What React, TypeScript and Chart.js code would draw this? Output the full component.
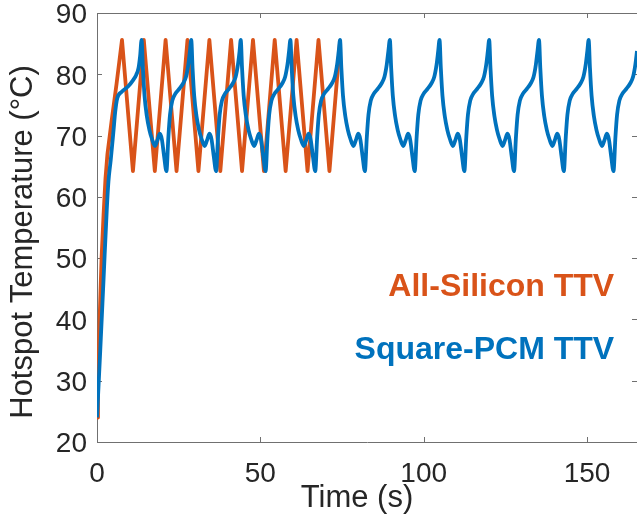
import React, { useEffect, useRef } from 'react';
import { Chart, registerables } from 'chart.js';

Chart.register(...registerables);

// ---- Text ----
const xTitle = 'Time (s)';
const yTitle = 'Hotspot Temperature (°C)';
const siliconLabel = 'All-Silicon TTV';
const pcmLabel = 'Square-PCM TTV';

// ---- Axes ----
const xTicks = [0, 50, 100, 150];
const yTicks = [20, 30, 40, 50, 60, 70, 80, 90];
const xMin = 0;
const xMax = 165.3;
const yMin = 20;
const yMax = 90;

// ---- Label anchor positions (data units) ----
const siliconLabelAt = [158.3, 43.8];
const pcmLabelAt = [158.3, 33.5];

// ---- All-Silicon TTV series ----
const siliconTime = [
  0, 0.3, 0.8, 1.4, 2.0, 2.6, 3.2, 4.5, 6.0, 7.65,
  11.0, 14.33, 17.7, 21.0, 24.35, 27.7, 31.05, 34.4, 37.75, 41.05,
  44.4, 47.75, 51.1, 54.4, 57.75, 61.1, 64.45, 67.8, 71.15, 74.45,
];
const siliconTemp = [
  24.0, 30.0, 40.0, 50.0, 57.0, 63.0, 67.0, 72.5, 78.5, 85.6,
  64.2, 85.6, 64.2, 85.6, 64.2, 85.6, 64.2, 85.6, 64.2, 85.6,
  64.2, 85.6, 64.2, 85.6, 64.2, 85.6, 64.2, 85.6, 64.2, 85.6,
];

// ---- Square-PCM TTV series ----
const pcmTime = [
  0, 1.0, 2.0, 3.0, 3.5, 4.2, 5.0, 5.6, 6.2, 7.5, 9.5, 11.0, 12.0, 12.7, 13.2,
  13.65, 14.05, 14.55, 15.25, 16.05, 16.85, 17.75, 18.45, 19.25, 19.85, 20.55, 21.25, 21.85, 22.35, 23.05, 23.95, 25.15, 26.35, 27.25, 27.95, 28.45,
  28.85, 29.25, 29.75, 30.45, 31.25, 32.05, 32.95, 33.65, 34.45, 35.05, 35.75, 36.45, 37.05, 37.55, 38.25, 39.15, 40.35, 41.55, 42.45, 43.15, 43.65,
  44.0, 44.4, 44.9, 45.6, 46.4, 47.2, 48.1, 48.8, 49.6, 50.2, 50.9, 51.6, 52.2, 52.7, 53.4, 54.3, 55.5, 56.7, 57.6, 58.3, 58.8,
  59.2, 59.6, 60.1, 60.8, 61.6, 62.4, 63.3, 64.0, 64.8, 65.4, 66.1, 66.8, 67.4, 67.9, 68.6, 69.5, 70.7, 71.9, 72.8, 73.5, 74.0,
  74.4, 74.8, 75.3, 76.0, 76.8, 77.6, 78.5, 79.2, 80.0, 80.6, 81.3, 82.0, 82.6, 83.1, 83.8, 84.7, 85.9, 87.1, 88.0, 88.7, 89.2,
  89.65, 90.05, 90.55, 91.25, 92.05, 92.85, 93.75, 94.45, 95.25, 95.85, 96.55, 97.25, 97.85, 98.35, 99.05, 99.95, 101.15, 102.35, 103.25, 103.95, 104.45,
  104.85, 105.25, 105.75, 106.45, 107.25, 108.05, 108.95, 109.65, 110.45, 111.05, 111.75, 112.45, 113.05, 113.55, 114.25, 115.15, 116.35, 117.55, 118.45, 119.15, 119.65,
  120.05, 120.45, 120.95, 121.65, 122.45, 123.25, 124.15, 124.85, 125.65, 126.25, 126.95, 127.65, 128.25, 128.75, 129.45, 130.35, 131.55, 132.75, 133.65, 134.35, 134.85,
  135.3, 135.7, 136.2, 136.9, 137.7, 138.5, 139.4, 140.1, 140.9, 141.5, 142.2, 142.9, 143.5, 144.0, 144.7, 145.6, 146.8, 148.0, 148.9, 149.6, 150.1,
  150.5, 150.9, 151.4, 152.1, 152.9, 153.7, 154.6, 155.3, 156.1, 156.7, 157.4, 158.1, 158.7, 159.2, 159.9, 160.8, 162.0, 163.2, 164.1, 164.8, 165.3,
  165.7,
];
const pcmTemp = [
  24.0, 35.0, 46.5, 58.0, 62.5, 66.0, 70.5, 74.0, 76.1, 77.1, 78.0, 79.0, 79.9, 81.0, 83.0,
  85.6, 81.0, 76.5, 73.2, 70.9, 69.4, 68.3, 69.2, 70.3, 69.4, 66.6, 64.2, 69.8, 73.4, 75.7, 76.8, 77.6, 78.5, 79.6, 81.6, 83.8,
  85.6, 81.0, 76.5, 73.2, 70.9, 69.4, 68.3, 69.2, 70.3, 69.4, 66.6, 64.2, 69.8, 73.4, 75.7, 76.8, 77.6, 78.5, 79.6, 81.6, 83.8,
  85.6, 81.0, 76.5, 73.2, 70.9, 69.4, 68.3, 69.2, 70.3, 69.4, 66.6, 64.2, 69.8, 73.4, 75.7, 76.8, 77.6, 78.5, 79.6, 81.6, 83.8,
  85.6, 81.0, 76.5, 73.2, 70.9, 69.4, 68.3, 69.2, 70.3, 69.4, 66.6, 64.2, 69.8, 73.4, 75.7, 76.8, 77.6, 78.5, 79.6, 81.6, 83.8,
  85.6, 81.0, 76.5, 73.2, 70.9, 69.4, 68.3, 69.2, 70.3, 69.4, 66.6, 64.2, 69.8, 73.4, 75.7, 76.8, 77.6, 78.5, 79.6, 81.6, 83.8,
  85.6, 81.0, 76.5, 73.2, 70.9, 69.4, 68.3, 69.2, 70.3, 69.4, 66.6, 64.2, 69.8, 73.4, 75.7, 76.8, 77.6, 78.5, 79.6, 81.6, 83.8,
  85.6, 81.0, 76.5, 73.2, 70.9, 69.4, 68.3, 69.2, 70.3, 69.4, 66.6, 64.2, 69.8, 73.4, 75.7, 76.8, 77.6, 78.5, 79.6, 81.6, 83.8,
  85.6, 81.0, 76.5, 73.2, 70.9, 69.4, 68.3, 69.2, 70.3, 69.4, 66.6, 64.2, 69.8, 73.4, 75.7, 76.8, 77.6, 78.5, 79.6, 81.6, 83.8,
  85.6, 81.0, 76.5, 73.2, 70.9, 69.4, 68.3, 69.2, 70.3, 69.4, 66.6, 64.2, 69.8, 73.4, 75.7, 76.8, 77.6, 78.5, 79.6, 81.6, 83.8,
  85.6, 81.0, 76.5, 73.2, 70.9, 69.4, 68.3, 69.2, 70.3, 69.4, 66.6, 64.2, 69.8, 73.4, 75.7, 76.8, 77.6, 78.5, 79.6, 81.6, 83.8,
  85.6,
];

// ---- Styles ----
const ORANGE = '#D95319';
const BLUE = '#0072BD';
const AXIS = '#707070';
const TEXT = '#262626';
const FONT = '"Liberation Sans", Arial, Helvetica, sans-serif';

const toPoints = (xs: number[], ys: number[]) => xs.map((x, i) => ({ x, y: ys[i] }));

const decor = {
  id: 'decor',
  beforeDatasetsDraw(chart: any) {
    const { ctx, chartArea, scales } = chart;
    const { left, right, top, bottom } = chartArea;
    const x = scales.x;
    const y = scales.y;
    ctx.save();
    ctx.strokeStyle = AXIS;
    ctx.lineWidth = 1;
    ctx.beginPath();
    ctx.moveTo(left, Math.round(top) + 0.5);
    ctx.lineTo(right, Math.round(top) + 0.5);
    for (const t of x.ticks) {
      const px = Math.round(x.getPixelForValue(t.value)) + 0.5;
      ctx.moveTo(px, bottom);
      ctx.lineTo(px, bottom - 5);
      ctx.moveTo(px, top);
      ctx.lineTo(px, top + 5);
    }
    for (const t of y.ticks) {
      const py = Math.round(y.getPixelForValue(t.value)) + 0.5;
      ctx.moveTo(left, py);
      ctx.lineTo(left + 5, py);
      ctx.moveTo(right, py);
      ctx.lineTo(right - 5, py);
    }
    ctx.stroke();
    ctx.restore();
  },
  afterDraw(chart: any) {
    const { ctx, scales } = chart;
    const x = scales.x;
    const y = scales.y;
    ctx.save();
    // annotations
    ctx.font = `bold 32px ${FONT}`;
    ctx.textAlign = 'right';
    ctx.textBaseline = 'alphabetic';
    ctx.fillStyle = ORANGE;
    ctx.fillText(siliconLabel, x.getPixelForValue(siliconLabelAt[0]), y.getPixelForValue(siliconLabelAt[1]));
    ctx.fillStyle = BLUE;
    ctx.fillText(pcmLabel, x.getPixelForValue(pcmLabelAt[0]), y.getPixelForValue(pcmLabelAt[1]));
    // axis titles
    ctx.fillStyle = TEXT;
    ctx.font = `31px ${FONT}`;
    ctx.textAlign = 'center';
    ctx.fillText(xTitle, 357, 507);
    ctx.translate(32, 242);
    ctx.rotate(-Math.PI / 2);
    ctx.fillText(yTitle, 0, 0);
    ctx.restore();
  },
};

export default function App() {
  const ref = useRef<HTMLCanvasElement>(null);
  useEffect(() => {
    document.body.style.margin = '0';
    const chart = new Chart(ref.current as HTMLCanvasElement, {
      type: 'line',
      data: {
        datasets: [
          {
            label: pcmLabel,
            data: toPoints(pcmTime, pcmTemp),
            borderColor: BLUE,
            backgroundColor: BLUE,
            borderWidth: 3.8,
            pointRadius: 0,
            cubicInterpolationMode: 'monotone',
            borderJoinStyle: 'round',
            fill: false,
          },
          {
            label: siliconLabel,
            data: toPoints(siliconTime, siliconTemp),
            borderColor: ORANGE,
            backgroundColor: ORANGE,
            borderWidth: 3.8,
            pointRadius: 0,
            tension: 0,
            borderJoinStyle: 'round',
            fill: false,
          },
        ],
      },
      options: {
        animation: false,
        responsive: false,
        devicePixelRatio: 1,
        layout: { padding: { top: 13, left: 0, right: 0, bottom: 0 } },
        plugins: { legend: { display: false }, tooltip: { enabled: false } },
        events: [],
        scales: {
          x: {
            type: 'linear',
            min: xMin,
            max: xMax,
            afterBuildTicks: (s: any) => {
              s.ticks = xTicks.map((v) => ({ value: v }));
            },
            afterFit: (s: any) => {
              s.height = 76;
              s.paddingLeft = 0;
              s.paddingRight = 0;
            },
            ticks: {
              font: { family: FONT, size: 28 },
              color: TEXT,
              padding: 15,
              maxRotation: 0,
              autoSkip: false,
              includeBounds: false,
            },
            grid: { display: false, drawTicks: false },
            border: { display: true, color: AXIS, width: 1 },
          },
          y: {
            type: 'linear',
            min: yMin,
            max: yMax,
            afterBuildTicks: (s: any) => {
              s.ticks = yTicks.map((v) => ({ value: v }));
            },
            afterFit: (s: any) => {
              s.width = 97;
              s.paddingTop = 0;
              s.paddingBottom = 0;
            },
            ticks: {
              font: { family: FONT, size: 28 },
              color: TEXT,
              padding: 10,
              labelOffset: 2.5,
              autoSkip: false,
              includeBounds: false,
            },
            grid: { display: false, drawTicks: false },
            border: { display: true, color: AXIS, width: 1 },
          },
        },
      },
      plugins: [decor],
    } as any);
    return () => chart.destroy();
  }, []);
  return (
    <div style={{ position: 'fixed', left: 0, top: 0, width: 637, height: 518, background: '#fff' }}>
      <canvas ref={ref} width={637} height={518} style={{ display: 'block', width: 637, height: 518 }} />
    </div>
  );
}
